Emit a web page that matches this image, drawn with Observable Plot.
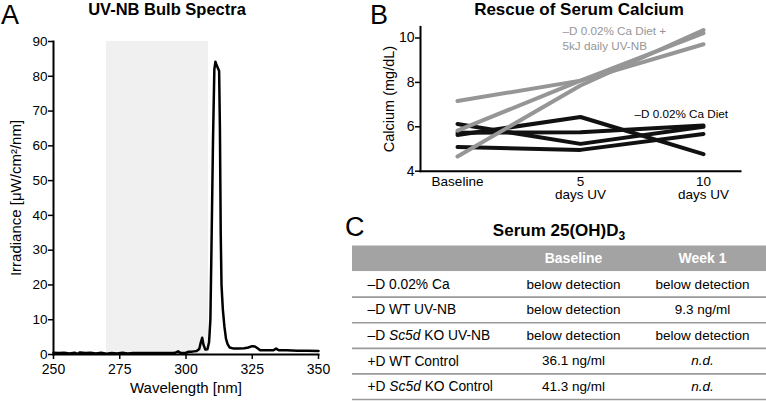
<!DOCTYPE html>
<html><head><meta charset="utf-8">
<script src="https://cdn.jsdelivr.net/npm/d3@7"></script>
<script src="https://cdn.jsdelivr.net/npm/@observablehq/plot@0.6"></script>
<style>
body{margin:0;background:#fff}
#fig{position:relative;width:766px;height:401px;overflow:hidden;font-family:"Liberation Sans",Arial,Helvetica,sans-serif;color:#000}
.abs{position:absolute}
.letter{font-size:27px;line-height:1}
.title{font-weight:bold;font-size:17px;line-height:1;white-space:nowrap;transform:translateX(-50%)}
.title sub{font-size:12px;vertical-align:-4px;line-height:0}
</style></head><body>
<div id="fig">
  <div class="abs letter" style="left:1px;top:2px">A</div>
  <div class="abs letter" style="left:370px;top:2px">B</div>
  <div class="abs letter" style="left:345px;top:214px">C</div>
  <div class="abs title" style="left:167px;top:1px;font-size:16.5px">UV-NB Bulb Spectra</div>
  <div class="abs title" style="left:579px;top:1px">Rescue of Serum Calcium</div>
  <div class="abs title" style="left:559px;top:222px">Serum 25(OH)D<sub>3</sub></div>
  <div class="abs" id="panelA" style="left:0;top:0"></div>
  <div class="abs" id="panelB" style="left:360px;top:0"></div>
  <div class="abs" id="panelC" style="left:352px;top:200px"></div>
</div>
<script>
// ---------- Panel A data ----------
const wavelengthNm = [
  250,252,254,256,258,259,260,262,264,266,
  268,270,272,274,276,278,280,285,290,295,
  296,297,298,300,301,302,303,304,305,305.6,
  306.1,306.6,307.3,308.1,308.7,309.2,309.6,310.2,310.7,311.1,
  311.5,312.5,312.8,313.1,313.4,313.9,314.5,315.1,315.7,316.5,
  318,320,322,323.5,325,326,327,328,330,333,
  334,335,338,342,346,350
];
const irradiance = [
  0.5,0.4,0.5,0.3,0.5,0.2,0.6,0.4,0.5,0.3,
  0.5,0.2,0.4,0.3,0.5,0.3,0.4,0.4,0.4,0.4,
  0.5,0.9,0.4,0.5,0.8,0.8,0.9,1.0,1.6,3.5,
  4.8,2.8,1.4,1.5,3.5,10,30,62,82,84.2,
  83.3,81.5,65,35,20,13,8,4.5,3,2,
  1.7,1.7,1.8,2.0,2.4,2.3,1.8,1.2,1.2,1.2,
  1.7,1.2,1.2,1.1,1.1,1.0
];
const shadedBand = [270, 308.5];
const wavelengthDomain = [250, 350];
const irradianceDomain = [0, 90];
const wavelengthTicks = [250, 275, 300, 325, 350];
const irradianceTicks = [0, 10, 20, 30, 40, 50, 60, 70, 80, 90];

// ---------- Panel B data ----------
const timepoints = ["Baseline", "5", "10"];
const timeTickLabels = ["Baseline", "5\ndays UV", "10\ndays UV"];
const uvMice = [[7.16, 8.08, 9.72], [5.83, 8.08, 10.22], [4.66, 7.86, 10.36]];
const dietMice = [[6.13, 5.23, 6.0], [5.63, 6.44, 4.77], [5.73, 5.76, 6.06], [5.09, 4.96, 5.68]];
const calciumDomain = [4, 10.5];
const calciumTicks = [4, 6, 8, 10];
const seriesLabels = ["–D 0.02% Ca Diet +\n5kJ daily UV-NB", "–D 0.02% Ca Diet"];
const seriesLabelTime = ["5", "5"];
const seriesLabelValue = [10.0, 6.58];

// ---------- Panel C data ----------
const tableColumns = ["Baseline", "Week 1"];
const tableGroups = ["–D 0.02% Ca", "–D WT UV-NB", "–D Sc5d KO UV-NB", "+D WT Control", "+D Sc5d KO Control"];
const baselineValues = ["below detection", "below detection", "below detection", "36.1 ng/ml", "41.3 ng/ml"];
const week1Values = ["below detection", "9.3 ng/ml", "below detection", "n.d.", "n.d."];

const FONT = "Liberation Sans, Arial, Helvetica, sans-serif";
const baseStyle = {fontFamily: FONT, color: "#000", background: "transparent", overflow: "visible"};

function styleAxisLabels(svg, size) {
  svg.querySelectorAll('[aria-label="x-axis label"], [aria-label="y-axis label"]').forEach(g => {
    g.setAttribute("font-size", size);
    g.querySelectorAll("text").forEach(t => t.setAttribute("font-size", size));
  });
}

// ---------- Panel A ----------
const spectrum = wavelengthNm.map((w, i) => ({w, v: irradiance[i]}));
const plotA = Plot.plot({
  width: 340, height: 401,
  marginLeft: 53, marginRight: 22, marginTop: 41, marginBottom: 47,
  style: baseStyle,
  x: {domain: wavelengthDomain},
  y: {domain: irradianceDomain},
  marks: [
    Plot.rect([shadedBand], {x1: d => d[0], x2: d => d[1], y1: irradianceDomain[0], y2: irradianceDomain[1], fill: "#f0f0f0"}),
    Plot.line(spectrum, {x: "w", y: "v", stroke: "#000", strokeWidth: 2.5, strokeLinejoin: "round"}),
    Plot.frame({anchor: "left", stroke: "#000", strokeWidth: 2}),
    Plot.frame({anchor: "bottom", stroke: "#000", strokeWidth: 2}),
    Plot.axisX({ticks: wavelengthTicks, tickSize: 5, tickPadding: 5, fontSize: 14, strokeWidth: 1.5,
      label: "Wavelength [nm]", labelAnchor: "center", labelOffset: 38, labelArrow: "none"}),
    Plot.axisY({ticks: irradianceTicks, tickSize: 5, tickPadding: 1, fontSize: 13.5, strokeWidth: 1.5,
      label: "Irradiance [μW/cm²/nm]", labelAnchor: "center", labelOffset: 43, labelArrow: "none"})
  ]
});
styleAxisLabels(plotA, 15);
document.getElementById("panelA").appendChild(plotA);

// ---------- Panel B ----------
const calcium = [];
dietMice.forEach((vals, m) => vals.forEach((v, i) => calcium.push({group: "diet", mouse: "d" + m, time: timepoints[i], value: v})));
uvMice.forEach((vals, m) => vals.forEach((v, i) => calcium.push({group: "uv", mouse: "u" + m, time: timepoints[i], value: v})));
const annotations = seriesLabels.map((t, i) => ({text: t, time: seriesLabelTime[i], value: seriesLabelValue[i]}));
const plotB = Plot.plot({
  width: 406, height: 215,
  marginLeft: 60, marginRight: 26, marginTop: 26.4, marginBottom: 44.3,
  style: baseStyle,
  x: {type: "point", domain: timepoints, padding: 0.3},
  y: {domain: calciumDomain},
  marks: [
    Plot.frame({anchor: "left", stroke: "#000", strokeWidth: 2}),
    Plot.frame({anchor: "bottom", stroke: "#000", strokeWidth: 2}),
    Plot.axisX({tickSize: 0, tickPadding: 5, fontSize: 13.5, lineHeight: 1.0, label: null,
      tickFormat: d => timeTickLabels[timepoints.indexOf(d)]}),
    Plot.axisY({ticks: calciumTicks, tickFormat: d3.format("d"), tickSize: 5, tickPadding: 1, fontSize: 14, strokeWidth: 1.5,
      label: "Calcium (mg/dL)", labelAnchor: "center", labelOffset: 37, labelArrow: "none"}),
    Plot.line(calcium.filter(d => d.group === "diet"), {x: "time", y: "value", z: "mouse", stroke: "#111", strokeWidth: 4}),
    Plot.line(calcium.filter(d => d.group === "uv"), {x: "time", y: "value", z: "mouse", stroke: "#969696", strokeWidth: 4}),
    Plot.text(annotations.slice(0, 1), {x: "time", y: "value", text: "text", textAnchor: "start", dx: -18, fill: "#969696", fontSize: 11.7, lineHeight: 1.2}),
    Plot.text(annotations.slice(1), {x: "time", y: "value", text: "text", textAnchor: "start", dx: 54, fill: "#000", fontSize: 11.7})
  ]
});
styleAxisLabels(plotB, 14.5);
document.getElementById("panelB").appendChild(plotB);

// ---------- Panel C ----------
const cells = [];
tableGroups.forEach((g, i) => {
  cells.push({col: "Baseline", row: i, text: baselineValues[i]});
  cells.push({col: "Week 1", row: i, text: week1Values[i]});
});
const nRows = tableGroups.length + 1;
const plotC = Plot.plot({
  width: 414, height: 201, margin: 0,
  style: baseStyle,
  x: {type: "point", domain: tableColumns, range: [221, 350], padding: 0, axis: null},
  y: {domain: [0, nRows], range: [45.5, 199], axis: null},
  marks: [
    Plot.rect([0], {y1: d => d, y2: d => d + 1, fill: "#a3a3a3"}),
    Plot.ruleY(d3.range(2, nRows + 1), {stroke: "#9a9a9a", strokeWidth: 1.6}),
    Plot.text(tableColumns, {x: d => d, y: 0.5, text: d => d, fill: "#fff", fontWeight: "bold", fontSize: 14}),
    Plot.text(tableGroups, {frameAnchor: "left", dx: 15, y: (d, i) => i + 1.5, text: d => d, textAnchor: "start", fontSize: 13.8, fill: "#000"}),
    Plot.text(cells, {x: "col", y: d => d.row + 1.5, text: "text", fontSize: 13.5, fill: "#000"})
  ]
});
plotC.querySelectorAll("text").forEach(t => {
  if (t.children.length === 0) {
    const s = t.textContent;
    if (s.includes("Sc5d")) t.innerHTML = s.replace("Sc5d", '<tspan font-style="italic">Sc5d</tspan>');
    if (s === "n.d.") t.setAttribute("font-style", "italic");
  }
});
document.getElementById("panelC").appendChild(plotC);
</script>
</body></html>
